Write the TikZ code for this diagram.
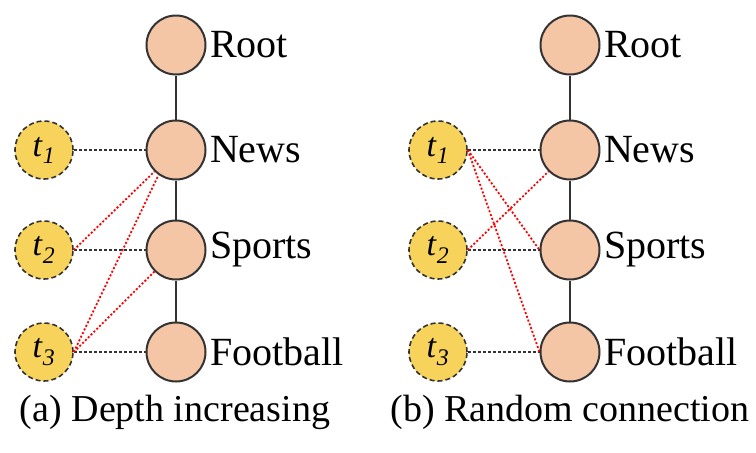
\documentclass[tikz,border=0pt]{standalone}
\usepackage{fontspec}
\setmainfont{Liberation Serif}
\tikzset{
  cat/.style={circle,draw=black!80,line width=2pt,fill=catfill,minimum size=59pt,inner sep=0pt},
  topic/.style={circle,draw=black!80,dash pattern=on 5pt off 3pt,line width=1.6pt,fill=topicfill,minimum size=58pt,inner sep=0pt,font=\rmfamily\fontsize{34}{36}\selectfont},
  tree/.style={line width=2.4pt,black!80},
  link/.style={dash pattern=on 3pt off 2pt,line width=2pt,black!80},
  rlink/.style={dash pattern=on 2pt off 2pt,line width=1.8pt,red},
  lbl/.style={label distance=3pt,label={[font=\rmfamily\fontsize{40}{42}\selectfont]right:#1}}
}
\definecolor{catfill}{HTML}{F5C6A6}
\definecolor{topicfill}{HTML}{F8D35C}
\newcommand{\tsub}[1]{\textit{t}\textsubscript{\textit{#1}}}
\begin{document}
\begin{tikzpicture}[x=1pt,y=-1pt]
      \useasboundingbox (0,0) rectangle (756,453);

      % (a) depth increasing
      \node[cat,lbl=Root] (r1) at (176,45) {};
      \node[cat,lbl=News] (n1) at (176,150) {};
      \node[cat,lbl=Sports] (s1) at (176,250) {};
      \node[cat,lbl=Football] (f1) at (176,352) {};
      \node[topic] (a1) at (44,150) {\tsub{1}};
      \node[topic] (a2) at (44,250) {\tsub{2}};
      \node[topic] (a3) at (44,352) {\tsub{3}};

      \draw[tree] (r1)--(n1);
      \draw[tree] (n1)--(s1);
      \draw[tree] (s1)--(f1);
      \draw[link] (a1.east)--(n1.west);
      \draw[link] (a2.east)--(s1.west);
      \draw[link] (a3.east)--(f1.west);
      \draw[rlink] (a2.east)--(n1.225);
      \draw[rlink] (a3.east)--(n1.235);
      \draw[rlink] (a3.east)--(s1.225);

      % (b) random connection
      \node[cat,lbl=Root] (r2) at (570,45) {};
      \node[cat,lbl=News] (n2) at (570,150) {};
      \node[cat,lbl=Sports] (s2) at (570,250) {};
      \node[cat,lbl=Football] (f2) at (570,352) {};
      \node[topic] (b1) at (438,150) {\tsub{1}};
      \node[topic] (b2) at (438,250) {\tsub{2}};
      \node[topic] (b3) at (438,352) {\tsub{3}};

      \draw[tree] (r2)--(n2);
      \draw[tree] (n2)--(s2);
      \draw[tree] (s2)--(f2);
      \draw[link] (b1.east)--(n2.west);
      \draw[link] (b2.east)--(s2.west);
      \draw[link] (b3.east)--(f2.west);
      \draw[rlink] (b1.east)--(s2.west);
      \draw[rlink] (b1.east)--(f2.west);
      \draw[rlink] (b2.east)--(n2.225);

      \node[font=\rmfamily\fontsize{38}{40}\selectfont] (capa) at (175,412) {(a) Depth increasing};
      \node[font=\rmfamily\fontsize{38}{40}\selectfont] (capb) at (570,412) {(b) Random connection};
\end{tikzpicture}
\end{document}
